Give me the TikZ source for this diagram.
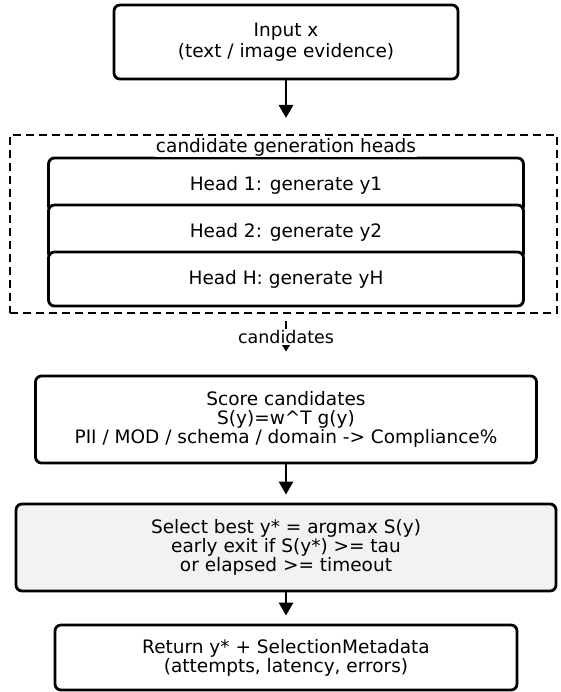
\documentclass[tikz,border=0pt]{standalone}
\usepackage{fontspec}
\setmainfont{DejaVu Sans}
\usetikzlibrary{arrows.meta}

\begin{document}
\begin{tikzpicture}[x=1pt,y=-1pt,
    box/.style={draw,line width=2.8pt,rounded corners=6pt,fill=white,align=center,
        inner sep=0pt,font=\fontsize{18.5}{19}\selectfont},
    headbox/.style={box,minimum width=475pt,minimum height=54pt},
    arr/.style={line width=2.8pt,-{Triangle[width=14pt,length=13pt]}},
    smallarr/.style={line width=2pt,-{Triangle[width=8pt,length=7pt]}}]
        \useasboundingbox (0,0) rectangle (561,692);

        \node[box,minimum width=344pt,minimum height=74pt,font=\fontsize{18.5}{21}\selectfont]
            (input) at (286,42) {Input x\\(text / image evidence)};

        \node[draw,line width=2pt,dash pattern=on 8pt off 5pt,
            minimum width=547pt,minimum height=178pt] (heads) at (283.5,224) {};
        \node[headbox] (head1) at (286,185) {Head 1: generate y1};
        \node[headbox] (head2) at (286,232) {Head 2: generate y2};
        \node[headbox] (headH) at (286,279) {Head H: generate yH};
        \node[fill=white,inner sep=1pt,font=\fontsize{18.5}{19}\selectfont] (headslabel)
            at (286,147) {candidate generation heads};

        \node[box,minimum width=501pt,minimum height=87pt] (score) at (286,419.5)
            {Score candidates\\S(y)=w\^{}T g(y)\\PII / MOD / schema / domain -> Compliance\%};
        \node[box,fill=black!5,minimum width=540pt,minimum height=87pt] (select) at (286,547.5)
            {Select best y* = argmax S(y)\\early exit if S(y*) >= tau\\or elapsed >= timeout};
        \node[box,minimum width=462pt,minimum height=65pt] (ret) at (286,657.5)
            {Return y* + SelectionMetadata\\(attempts, latency, errors)};

        \draw[arr,shorten >=16pt] (input) -- (input |- heads.north);
        \draw[smallarr,shorten <=7pt,shorten >=23pt] (heads.south -| score.north) -- (score.north)
            node[pos=0.38,fill=white,inner sep=1pt,font=\fontsize{17.5}{18}\selectfont] (candlabel) {candidates};
        \draw[arr,shorten >=8pt] (score) -- (select);
        \draw[arr,shorten >=8pt] (select) -- (ret);
    \end{tikzpicture}
\end{document}
